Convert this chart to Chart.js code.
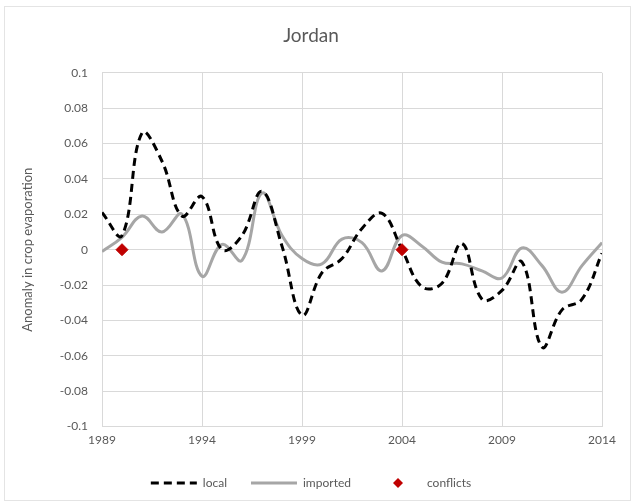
<!DOCTYPE html>
<html>
<head>
<meta charset="utf-8">
<script src="https://cdn.jsdelivr.net/npm/chart.js@4.4.1/dist/chart.umd.min.js"></script>
<style>
  html, body { margin: 0; padding: 0; background: #fff; }
  #wrap { position: absolute; left: 4px; top: 6px; width: 627px; height: 495px; border: 1px solid #e4e4e4; box-sizing: border-box; }
  #chart { position: absolute; left: 0; top: 0; }
</style>
</head>
<body>
<div id="wrap"></div>
<canvas id="chart" width="633" height="503"></canvas>
<script>
// Data
const years = [1989, 1990, 1991, 1992, 1993, 1994, 1995, 1996, 1997, 1998, 1999, 2000, 2001,
               2002, 2003, 2004, 2005, 2006, 2007, 2008, 2009, 2010, 2011, 2012, 2013, 2014];
const local = [0.021, 0.008, 0.066, 0.05, 0.019, 0.030, 0.0, 0.008, 0.033, 0.002, -0.037, -0.013, -0.005,
               0.012, 0.0205, 0.0, -0.021, -0.019, 0.0035, -0.028, -0.023, -0.007, -0.055, -0.034, -0.028, -0.002];
const imported = [-0.001, 0.007, 0.019, 0.010, 0.020, -0.015, 0.003, -0.006, 0.032, 0.008, -0.005, -0.008, 0.006,
                  0.004, -0.012, 0.008, 0.002, -0.007, -0.008, -0.012, -0.016, 0.001, -0.009, -0.024, -0.009, 0.004];
const conflictYears = [1990, 2004];
const conflictValues = [0, 0];
const xTicks = [1989, 1994, 1999, 2004, 2009, 2014];

const txt = '#595959';
const grid = '#d9d9d9';
const red = '#c00000';
const fontFam = 'Lato, "Open Sans", sans-serif';

const toPts = (xs, ys) => xs.map((x, i) => ({ x: x, y: ys[i] }));

// small diamond for the legend entry
const diamond = document.createElement('canvas');
diamond.width = 10;
diamond.height = 10;
const dctx = diamond.getContext('2d');
dctx.fillStyle = red;
dctx.beginPath();
dctx.moveTo(5, 0); dctx.lineTo(10, 5); dctx.lineTo(5, 10); dctx.lineTo(0, 5);
dctx.closePath();
dctx.fill();

const ctx = document.getElementById('chart').getContext('2d');
const chart = new Chart(ctx, {
    type: 'line',
    data: {
        datasets: [{
            label: 'local',
            data: toPts(years, local),
            borderColor: '#000000',
            borderWidth: 3,
            borderDash: [8, 5],
            pointRadius: 0,
            tension: 0.4,
            order: 1
        }, {
            label: 'imported',
            data: toPts(years, imported),
            borderColor: '#a6a6a6',
            borderWidth: 3,
            pointRadius: 0,
            tension: 0.4,
            order: 2
        }, {
            label: 'conflicts',
            data: toPts(conflictYears, conflictValues),
            showLine: false,
            pointStyle: 'rectRot',
            pointRadius: 6,
            backgroundColor: red,
            borderColor: red,
            order: 0
        }]
    },
    options: {
        responsive: false,
        animation: false,
        layout: { padding: { left: 20, right: 31, top: 8, bottom: 4 } },
        plugins: {
            title: {
                display: true,
                text: 'Jordan',
                color: txt,
                font: { family: fontFam, size: 19, weight: 'normal' },
                padding: { top: 16, bottom: 26 }
            },
            legend: {
                position: 'bottom',
                labels: {
                    color: txt,
                    font: { family: fontFam, size: 12 },
                    usePointStyle: true,
                    pointStyleWidth: 46,
                    boxHeight: 8,
                    padding: 24,
                    generateLabels: function(c) {
                        return c.data.datasets.map((ds, i) => ({
                            text: ds.label,
                            datasetIndex: i,
                            fillStyle: 'rgba(0,0,0,0)',
                            strokeStyle: ds.borderColor,
                            lineWidth: ds.label === 'conflicts' ? 0 : 3,
                            lineDash: ds.borderDash || [],
                            pointStyle: ds.label === 'conflicts' ? diamond : 'line',
                            fontColor: txt
                        }));
                    }
                }
            },
            tooltip: { enabled: false }
        },
        scales: {
            x: {
                type: 'linear',
                min: 1989,
                max: 2014,
                afterBuildTicks: function(s) { s.ticks = xTicks.map(v => ({ value: v })); },
                ticks: {
                    color: txt,
                    font: { family: fontFam, size: 12 },
                    callback: v => String(v),
                    maxRotation: 0,
                    padding: 6
                },
                grid: { color: grid, drawTicks: false },
                border: { color: grid }
            },
            y: {
                min: -0.1,
                max: 0.1,
                ticks: {
                    stepSize: 0.02,
                    color: txt,
                    font: { family: fontFam, size: 12 },
                    padding: 14,
                    callback: function(v) {
                        const r = Math.round(v * 100) / 100;
                        return r === 0 ? '0' : String(r);
                    }
                },
                title: {
                    display: true,
                    text: 'Anomaly in crop evaporation',
                    color: txt,
                    font: { family: fontFam, size: 13 },
                    padding: { top: 0, bottom: 6 }
                },
                grid: { color: grid, drawTicks: false },
                border: { color: grid },
                afterFit: function(s) { s.width = 82; }
            }
        }
    }
});
</script>
</body>
</html>
